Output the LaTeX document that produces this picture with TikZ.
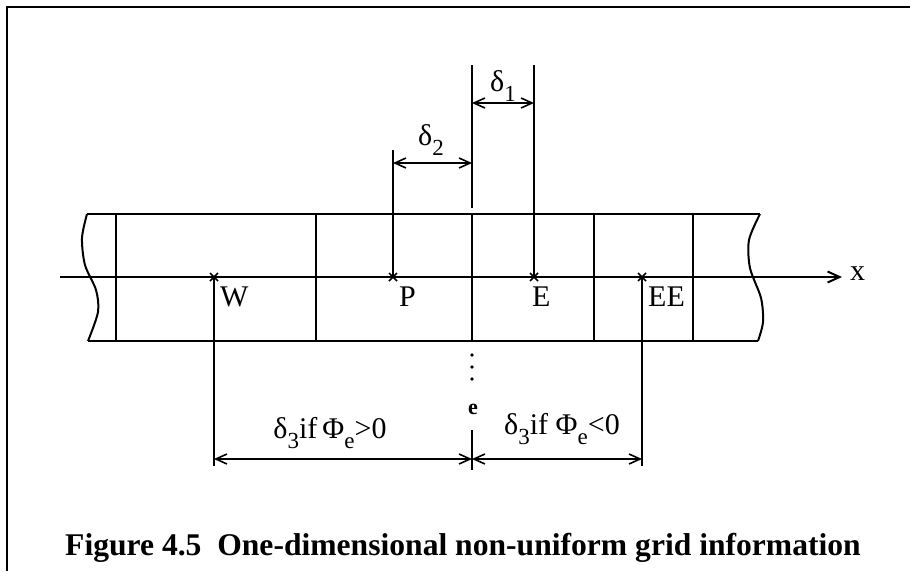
\documentclass[tikz,border=0pt]{standalone}
\usepackage{fontspec}
\setmainfont{Liberation Serif}
\usetikzlibrary{arrows.meta,calc}
\tikzset{
  ln/.style={line width=2pt},
  dimarrow/.style={line width=1.6pt,{Straight Barb[length=11pt,width=10pt,line width=1.6pt]}-{Straight Barb[length=11pt,width=10pt,line width=1.6pt]}},
  lbl/.style={inner sep=0pt,font=\fontsize{30}{32}\selectfont},
}
\newcommand{\sbs}[1]{\raisebox{-0.36em}{\fontsize{23}{23}\selectfont #1}}
\newcommand{\nodex}[1]{\draw[line width=1.5pt] ($(#1)+(-4,-4)$) -- ($(#1)+(4,4)$) ($(#1)+(-4,4)$) -- ($(#1)+(4,-4)$);}
\begin{document}
\begin{tikzpicture}[x=1pt,y=-1pt]
\useasboundingbox (0,0) rectangle (910,571);
% frame
\draw[ln] (6,7) -- (910,7);
\draw[ln] (7,7) -- (7,571);
% strip
\draw[ln] (87,214) -- (760,214);
\draw[ln] (88,341) -- (758,341);
\draw[ln] plot[smooth] coordinates {(87,214) (82,238) (85,265) (96,290) (98,312) (88,341)};
\draw[ln] plot[smooth] coordinates {(760,214) (749,240) (750,268) (761,298) (763,322) (758,341)};
% cell faces
\foreach \xx in {116,316,594,693} \draw[ln] (\xx,214) -- (\xx,341);
\draw[ln] (472,214) -- (472,341);
% axis
\coordinate (ax0) at (60,277);
\coordinate (ax1) at (842,277);
\draw[ln,-{Straight Barb[length=12pt,width=11pt,line width=2pt]}] (ax0) -- (ax1);
\node[lbl,anchor=west] (xl) at (850,274) {x};
% nodes
\coordinate (W) at (214,277);
\coordinate (P) at (393,277);
\coordinate (E) at (534,277);
\coordinate (EE) at (642,277);
\nodex{W}\nodex{P}\nodex{E}\nodex{EE}
\node[lbl,anchor=north west] (Wl) at (220,287) {W};
\node[lbl,anchor=north west] (Pl) at (399,287) {P};
\node[lbl,anchor=north west] (El) at (532,287) {E};
\node[lbl,anchor=north west] (EEl) at (648,287) {EE};
% extension lines
\coordinate (Ptop) at (393,150);
\coordinate (ftop) at (472,65);
\coordinate (fmid) at (472,208);
\coordinate (Etop) at (534,65);
\coordinate (Wbot) at (214,466);
\coordinate (EEbot) at (642,466);
\coordinate (fbot) at (472,470);
\coordinate (fdash) at (472,430);
\draw[ln] (P) -- (Ptop);
\draw[ln] (ftop) -- (fmid);
\draw[ln] (E) -- (Etop);
\draw[ln] (W) -- (Wbot);
\draw[ln] (EE) -- (EEbot);
\draw[ln] (fdash) -- (fbot);
\foreach \yy in {355,367,379} \fill (472,\yy) circle (1.8);
\node[lbl,font=\fontsize{22}{22}\selectfont\bfseries] (el) at (473,409) {e};
% dimension arrows
\draw[dimarrow] (393,163) -- (472,163);
\draw[dimarrow] (472,103) -- (534,103);
\draw[dimarrow] (214,459) -- (472,459);
\draw[dimarrow] (472,459) -- (642,459);
% labels
\node[lbl] (d1) at (503,86) {δ\sbs{1}};
\node[lbl] (d2) at (431,140) {δ\sbs{2}};
\node[lbl] (d3a) at (330,433) {δ\sbs{3}if\,Φ\sbs{e}>0};
\node[lbl] (d3b) at (562,429) {δ\sbs{3}if Φ\sbs{e}<0};
% caption
\node[anchor=base,inner sep=0pt,font=\fontsize{31.6}{33}\selectfont\bfseries] (cap) at (463,555) {Figure 4.5\ \ One-dimensional non-uniform grid information};
\end{tikzpicture}
\end{document}
